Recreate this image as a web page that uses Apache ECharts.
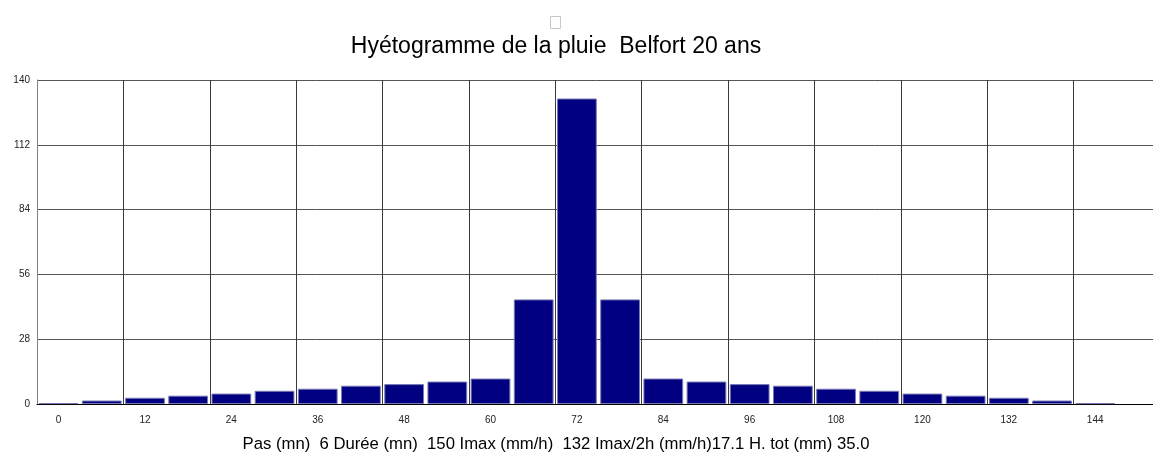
<!DOCTYPE html>
<html>
<head>
<meta charset="utf-8">
<title>Hyétogramme</title>
<script src="https://cdn.jsdelivr.net/npm/echarts@6/dist/echarts.min.js"></script>
<style>
  html, body { margin: 0; padding: 0; background: #fff; }
  #chart { width: 1153px; height: 457px; }
</style>
</head>
<body>
<div id="chart"></div>
<script>
// pas de temps (mn)
var pas = ['0', '6', '12', '18', '24', '30', '36', '42', '48', '54', '60', '66', '72',
  '78', '84', '90', '96', '102', '108', '114', '120', '126', '132', '138', '144', '150'];
// intensite (mm/h) - rien au dernier pas
var intensite = [0.4, 1.5, 2.7, 3.6, 4.5, 5.7, 6.6, 7.9, 8.6, 9.7, 11.0, 45.2, 132,
  45.2, 11.0, 9.7, 8.6, 7.9, 6.6, 5.7, 4.5, 3.6, 2.7, 1.5, 0.4, null];
var yTicks = [0, 28, 56, 84, 112, 140];

var titre = 'Hyétogramme de la pluie  Belfort 20 ans';
var legende = 'Pas (mn)  6 Durée (mn)  150 Imax (mm/h)  132 Imax/2h (mm/h)17.1 H. tot (mm) 35.0';

var font = '"Liberation Sans", Arial, sans-serif';
var chart = echarts.init(document.getElementById('chart'));

chart.setOption({
  animation: false,
  textStyle: { fontFamily: font },
  // la grille depasse a droite de la fenetre
  grid: { left: 37, top: 80, bottom: 53, width: 1123, outerBoundsMode: 'none', containLabel: false },
  graphic: [
    // petit carre (glyphe manquant) au dessus du titre
    { type: 'rect', left: 550, top: 16, shape: { width: 10, height: 12 },
      style: { fill: '#fff', stroke: '#c8c8c8', lineWidth: 1 } },
    { type: 'text', x: 556, y: 47,
      style: { text: titre, font: '23px ' + font, fill: '#000', align: 'center', verticalAlign: 'middle' } },
    { type: 'text', x: 556, y: 444,
      style: { text: legende, font: '16.7px ' + font, fill: '#000', align: 'center', verticalAlign: 'middle' } }
  ],
  xAxis: {
    type: 'category',
    data: pas,
    boundaryGap: true,
    axisLine: { lineStyle: { color: '#000', width: 1 } },
    axisTick: { show: false },
    axisLabel: { interval: 1, fontSize: 10, color: '#222', margin: 11 },
    splitLine: { show: true, interval: 1, lineStyle: { color: '#3a3a3a', width: 1 } }
  },
  yAxis: {
    type: 'value',
    min: yTicks[0],
    max: yTicks[yTicks.length - 1],
    interval: 28,
    axisLine: { show: true, lineStyle: { color: '#808080' } },
    axisTick: { show: false },
    axisLabel: { fontSize: 10, color: '#222', margin: 7 },
    splitLine: { show: true, lineStyle: { color: '#555', width: 1 } }
  },
  series: [
    {
      type: 'bar',
      data: intensite,
      barCategoryGap: '8%',
      itemStyle: { color: '#000080', borderColor: '#7878b4', borderWidth: 1 }
    }
  ]
});
</script>
</body>
</html>
